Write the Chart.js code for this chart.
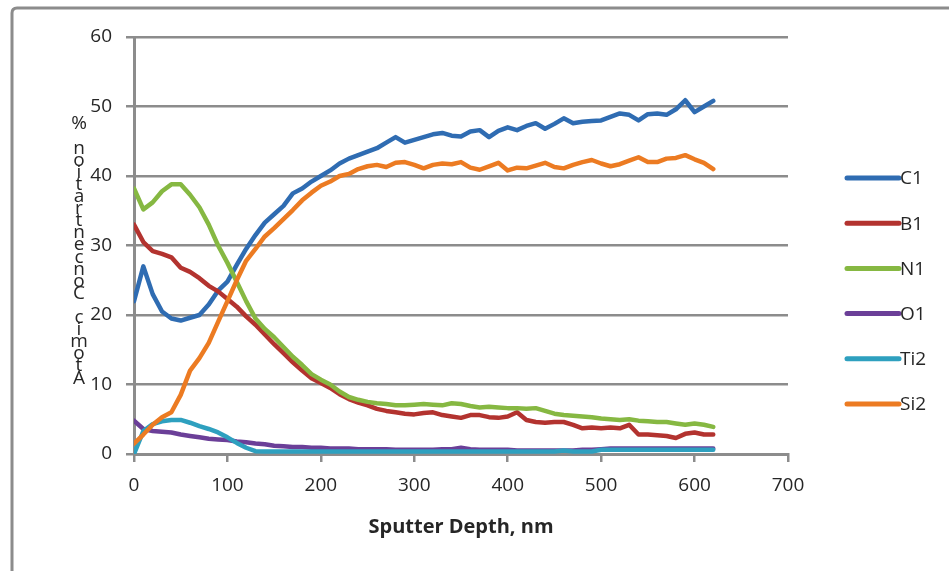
<!DOCTYPE html>
<html><head><meta charset="utf-8">
<script src="https://cdn.jsdelivr.net/npm/chart.js@4"></script>
<style>html,body{margin:0;padding:0;background:#fff}</style>
</head><body>
<canvas id="c" width="949" height="571"></canvas>
<script>
const depth = [0,10,20,30,40,50,60,70,80,90,100,110,120,130,140,150,160,170,180,190,200,210,220,230,240,250,260,270,280,290,300,310,320,330,340,350,360,370,380,390,400,410,420,430,440,450,460,470,480,490,500,510,520,530,540,550,560,570,580,590,600,610,620];
const C1 = [22,27,23,20.5,19.5,19.2,19.6,20,21.5,23.5,24.8,27.2,29.5,31.5,33.3,34.5,35.7,37.5,38.2,39.2,40,40.8,41.8,42.5,43,43.5,44,44.8,45.6,44.8,45.2,45.6,46,46.2,45.8,45.7,46.4,46.6,45.6,46.5,47,46.6,47.2,47.6,46.8,47.5,48.3,47.6,47.8,47.9,48,48.5,49,48.8,48,48.9,49,48.8,49.6,50.9,49.2,50,50.8];
const B1 = [33,30.5,29.2,28.8,28.3,26.8,26.2,25.3,24.2,23.4,22.3,21.2,19.8,18.6,17.2,15.8,14.5,13.2,12,10.9,10.2,9.5,8.6,7.9,7.4,7,6.5,6.2,6,5.8,5.7,5.9,6,5.6,5.4,5.2,5.6,5.6,5.3,5.2,5.4,6,4.9,4.6,4.5,4.6,4.6,4.2,3.7,3.8,3.7,3.8,3.7,4.2,2.8,2.8,2.7,2.6,2.3,2.9,3.1,2.8,2.8];
const N1 = [38.2,35.2,36.2,37.8,38.8,38.8,37.3,35.5,33,30,27.5,24.8,22,19.5,18,16.8,15.4,14,12.8,11.5,10.7,10,9,8.2,7.8,7.5,7.3,7.2,7,7,7.1,7.2,7.1,7,7.3,7.2,6.9,6.7,6.8,6.7,6.6,6.6,6.5,6.6,6.2,5.8,5.6,5.5,5.4,5.3,5.1,5,4.9,5,4.8,4.7,4.6,4.6,4.4,4.2,4.4,4.2,3.9];
const O1 = [4.8,3.6,3.3,3.2,3.1,2.8,2.6,2.4,2.2,2.1,2,1.8,1.7,1.5,1.4,1.2,1.1,1,1,0.9,0.9,0.8,0.8,0.8,0.7,0.7,0.7,0.7,0.6,0.6,0.6,0.6,0.6,0.7,0.7,0.9,0.7,0.6,0.6,0.6,0.6,0.5,0.5,0.5,0.5,0.5,0.5,0.5,0.6,0.6,0.7,0.8,0.8,0.8,0.8,0.8,0.8,0.8,0.8,0.8,0.8,0.8,0.8];
const Ti2 = [0,3.3,4.3,4.7,4.9,4.9,4.5,4,3.6,3.1,2.4,1.6,0.9,0.4,0.35,0.35,0.35,0.35,0.35,0.35,0.35,0.35,0.35,0.35,0.35,0.35,0.35,0.35,0.35,0.35,0.35,0.35,0.35,0.35,0.35,0.35,0.35,0.35,0.35,0.35,0.35,0.35,0.35,0.35,0.35,0.35,0.5,0.35,0.35,0.35,0.6,0.6,0.6,0.6,0.6,0.6,0.6,0.6,0.6,0.6,0.6,0.6,0.6];
const Si2 = [1.5,2.8,4.2,5.3,6,8.5,12,13.8,16,19,22,25,27.8,29.5,31.3,32.5,33.8,35.1,36.5,37.6,38.6,39.2,40,40.3,41,41.4,41.6,41.3,41.9,42,41.6,41.1,41.6,41.8,41.7,42,41.2,40.9,41.4,41.9,40.8,41.2,41.1,41.5,41.9,41.3,41.1,41.6,42,42.3,41.8,41.4,41.7,42.2,42.7,42,42,42.5,42.6,43,42.4,41.9,41];
const seriesNames = ['C1','B1','N1','O1','Ti2','Si2'];
const seriesValues = [C1,B1,N1,O1,Ti2,Si2];
const seriesColors = ['#2f6cb2','#b3332f','#86b842','#6b3f98','#2ea0bf','#ec7b22'];
const xTicks = [0,100,200,300,400,500,600,700];
const yTicks = [0,10,20,30,40,50,60];
const xTitle = 'Sputter Depth, nm';
const yTitle = 'Atomic Concentration %';

const FONT = "'Open Sans', 'Liberation Sans', sans-serif";
const TXT = '#262626';

const datasets = seriesNames.map((name, i) => ({
  label: name,
  data: depth.map((d, j) => ({x: d, y: seriesValues[i][j]})),
  borderColor: seriesColors[i],
  backgroundColor: seriesColors[i],
  borderWidth: 4.5,
  pointRadius: 0,
  tension: 0,
  fill: false,
  borderCapStyle: 'round',
  borderJoinStyle: 'round',
  order: seriesNames.length - i
}));

const framePlugin = {
  id: 'frame',
  beforeDraw(chart) {
    const ctx = chart.ctx;
    ctx.save();
    ctx.fillStyle = '#fff';
    ctx.fillRect(0, 0, chart.width, chart.height);
    ctx.strokeStyle = '#8c8c8c';
    ctx.lineWidth = 3;
    ctx.beginPath();
    ctx.moveTo(12, chart.height + 5);
    ctx.lineTo(12, 13);
    ctx.quadraticCurveTo(12, 8, 17, 8);
    ctx.lineTo(chart.width + 5, 8);
    ctx.stroke();
    ctx.restore();
  }
};

const extrasPlugin = {
  id: 'extras',
  afterDraw(chart) {
    const ctx = chart.ctx;
    ctx.save();
    // legend
    ctx.font = "19px " + FONT;
    ctx.textBaseline = 'middle';
    ctx.textAlign = 'left';
    chart.data.datasets.forEach((ds, i) => {
      const y = 178 + i * 45.2;
      ctx.strokeStyle = ds.borderColor;
      ctx.lineWidth = 5;
      ctx.lineCap = 'round';
      ctx.beginPath();
      ctx.moveTo(847, y);
      ctx.lineTo(899, y);
      ctx.stroke();
      ctx.fillStyle = TXT;
      ctx.fillText(ds.label, 900, y + 1);
    });
    // stacked y title (characters from bottom upward)
    const chars = Array.from(yTitle).reverse();
    ctx.textAlign = 'center';
    ctx.font = "19px " + FONT;
    chars.forEach((ch, k) => {
      ctx.fillText(ch, 79, 124 + k * 12.1);
    });
    ctx.restore();
  }
};

new Chart(document.getElementById('c'), {
  type: 'line',
  data: { datasets },
  options: {
    responsive: false,
    animation: false,
    devicePixelRatio: 1,
    layout: { padding: { top: 37, right: 161, left: 0, bottom: 0 } },
    plugins: { legend: { display: false }, tooltip: { enabled: false } },
    scales: {
      x: {
        type: 'linear',
        min: 0, max: 700,
        afterBuildTicks: s => { s.ticks = xTicks.map(v => ({value: v})); },
        afterFit: s => { s.height = 117; },
        grid: { display: true, drawOnChartArea: false, drawTicks: true, tickLength: 8, color: '#8c8c8c', lineWidth: 2.5 },
        border: { display: true, color: '#8c8c8c', width: 3 },
        ticks: { color: TXT, font: { family: FONT, size: 19 }, padding: 12, maxRotation: 0 },
        title: { display: true, text: xTitle, color: TXT, font: { family: FONT, size: 20, weight: 'bold' }, padding: { top: 0, bottom: 32 } }
      },
      y: {
        type: 'linear',
        min: 0, max: 60,
        afterBuildTicks: s => { s.ticks = yTicks.map(v => ({value: v})); },
        afterFit: s => { s.width = 134; },
        grid: { display: true, drawTicks: true, tickLength: 8, color: '#8c8c8c', lineWidth: 2.5 },
        border: { display: true, color: '#8c8c8c', width: 3 },
        ticks: { color: TXT, font: { family: FONT, size: 19 }, padding: 14 }
      }
    }
  },
  plugins: [framePlugin, extrasPlugin]
});
</script>
</body></html>
